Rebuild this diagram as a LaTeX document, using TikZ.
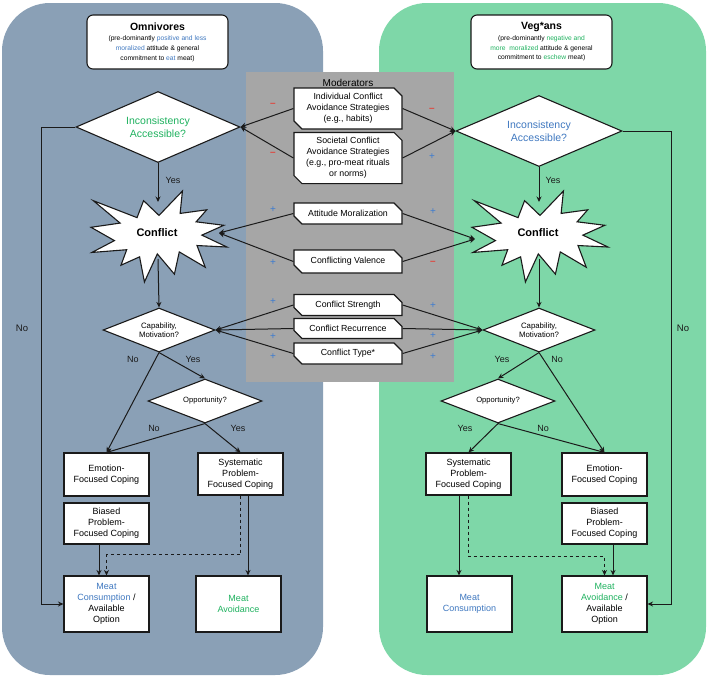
\documentclass[tikz,border=0pt]{standalone}
\usepackage{fontspec}
\setmainfont{Liberation Sans}
\usetikzlibrary{shapes.geometric,shapes.misc,arrows.meta}

\definecolor{omnipanel}{HTML}{8AA0B6}
\definecolor{vegpanel}{HTML}{7ED7A8}
\definecolor{modgray}{HTML}{A6A6A6}
\definecolor{txtblue}{HTML}{3F78C0}
\definecolor{txtgreen}{HTML}{1FB25F}
\definecolor{signred}{HTML}{E0443C}
\definecolor{signblue}{HTML}{3C7BD0}
\definecolor{ink}{HTML}{1A1A1A}

\tikzset{
  titlebox/.style={draw=ink, line width=1.1pt, fill=white, rounded corners=6pt,
    minimum width=141pt, minimum height=54pt, align=center, inner sep=2pt,
    font=\fontsize{6.7}{9.7}\selectfont},
  decision/.style={diamond, draw=ink, line width=1.1pt, fill=white, inner sep=0pt, align=center},
  modbox/.style={chamfered rectangle, chamfered rectangle corners={north east,south west},
    chamfered rectangle sep=4pt, draw=ink, line width=1.2pt, fill=white,
    minimum width=108pt, align=center, inner sep=1pt, font=\fontsize{8.8}{11}\selectfont},
  stepbox/.style={rectangle, draw=ink, line width=1.1pt, fill=white, minimum width=85pt,
    align=center, inner sep=2pt, font=\fontsize{9}{11}\selectfont},
  burstline/.style={draw=ink, line width=1.1pt, fill=white, line join=miter},
  flow/.style={draw=ink, line width=1pt, -{Stealth[length=5.5pt,width=5pt]}},
  lbl/.style={font=\fontsize{9}{10}\selectfont, inner sep=0pt, text=ink},
  minus/.style={font=\fontsize{10}{10}\selectfont\bfseries, inner sep=0pt, text=signred},
  plus/.style={font=\fontsize{10}{10}\selectfont, inner sep=0pt, text=signblue},
}

\begin{document}
\begin{tikzpicture}[x=1pt,y=-1pt]
\useasboundingbox (0,0) rectangle (709,678);

% panels and moderator area
\fill[omnipanel, rounded corners=48pt] (2,3) rectangle (323,675);
\fill[vegpanel, rounded corners=48pt] (379,3) rectangle (706,675);
\fill[modgray] (246,72) rectangle (454,382);
\node[font=\fontsize{10}{12}\selectfont, inner sep=0pt] (modtitle) at (348,82.5) {Moderators};

% group headers
\node[titlebox] (omni) at (157.5,42) {{\fontsize{10.5}{12}\selectfont\bfseries Omnivores}\\[1pt]
  (pre-dominantly \textcolor{txtblue}{positive and less}\\
  \textcolor{txtblue}{moralized} attitude \& general\\
  commitment to \textcolor{txtblue}{eat} meat)};
\node[titlebox] (veg) at (541.5,42) {{\fontsize{10.5}{12}\selectfont\bfseries Veg*ans}\\[1pt]
  (pre-dominantly \textcolor{txtgreen}{negative and}\\
  \textcolor{txtgreen}{more\ \ moralized} attitude \& general\\
  commitment to \textcolor{txtgreen}{eschew} meat)};

% inconsistency decisions
\node[decision, minimum width=164pt, minimum height=71pt, aspect=2.3,
  font=\fontsize{10.5}{13}\selectfont, text=txtgreen] (incL) at (158,127) {Inconsistency\\Accessible?};
\node[decision, minimum width=166pt, minimum height=71pt, aspect=2.3,
  font=\fontsize{10.5}{13}\selectfont, text=txtblue] (incR) at (539,131) {Inconsistency\\Accessible?};

% conflict bursts
\foreach \bx in {91,472}{
  \begin{scope}[shift={(\bx,191)}, x=136pt, y=-91pt]
    \draw[burstline] (0.5,0.2685) -- (0.6723,0) -- (0.6553,0.2465) -- (0.8509,0.2064)
      -- (0.7732,0.3386) -- (0.9767,0.3767) -- (0.8151,0.4850) -- (1,0.6157)
      -- (0.7795,0.5992) -- (0.8400,0.8377) -- (0.6491,0.6693) -- (0.6133,0.9137)
      -- (0.4876,0.6914) -- (0.3928,1) -- (0.3572,0.7235) -- (0.2205,0.8156)
      -- (0.2624,0.6452) -- (0.00625,0.6753) -- (0.1723,0.5451) -- (0,0.3988)
      -- (0.2142,0.3526) -- (0.0171,0.1063) -- (0.3385,0.2926) -- (0.3867,0.1063) -- cycle;
  \end{scope}
}
\node[font=\fontsize{11}{13}\selectfont\bfseries, inner sep=0pt] (conflictL) at (157,233) {Conflict};
\node[font=\fontsize{11}{13}\selectfont\bfseries, inner sep=0pt] (conflictR) at (538,233) {Conflict};
\coordinate (cLtop) at (158,202);
\coordinate (cLbot) at (158,259);
\coordinate (cLin) at (219,233);
\coordinate (cRtop) at (539,202);
\coordinate (cRbot) at (539,259);
\coordinate (cRin) at (475,239);

% capability and opportunity decisions
\node[decision, minimum width=112pt, minimum height=44pt, aspect=2.5,
  font=\fontsize{7.8}{9.3}\selectfont] (capL) at (159,330) {Capability,\\Motivation?};
\node[decision, minimum width=112pt, minimum height=44pt, aspect=2.5,
  font=\fontsize{7.8}{9.3}\selectfont] (capR) at (539,330) {Capability,\\Motivation?};
\node[decision, minimum width=114pt, minimum height=44pt, aspect=2.6,
  font=\fontsize{7.6}{9}\selectfont] (oppL) at (205,401) {Opportunity?};
\node[decision, minimum width=114pt, minimum height=44pt, aspect=2.6,
  font=\fontsize{7.6}{9}\selectfont] (oppR) at (498,401) {Opportunity?};

% moderators
\node[modbox, minimum height=41pt] (indiv) at (348,108.5) {Individual Conflict\\Avoidance Strategies\\(e.g., habits)};
\node[modbox, minimum height=48pt] (soc) at (348,158) {Societal Conflict\\Avoidance Strategies\\(e.g., pro-meat rituals\\or norms)};
\node[modbox, minimum height=21pt] (attm) at (348,213.5) {Attitude Moralization};
\node[modbox, minimum height=23pt] (val) at (348,261.5) {Conflicting Valence};
\node[modbox, minimum height=21pt] (str) at (348,305) {Conflict Strength};
\node[modbox, minimum height=20pt] (rec) at (348,328.5) {Conflict Recurrence};
\node[modbox, minimum height=21pt] (typ) at (348,353.5) {Conflict Type*};

% coping boxes and outcomes, omnivore side
\node[stepbox, minimum height=43pt] (emoL) at (106.5,474.5) {Emotion-\\Focused Coping};
\node[stepbox, minimum height=41pt] (biasL) at (106.5,523.5) {Biased\\Problem-\\Focused Coping};
\node[stepbox, minimum height=42pt] (sysL) at (240.5,474) {Systematic\\Problem-\\Focused Coping};
\node[stepbox, minimum height=56pt] (consL) at (106.5,604) {\textcolor{txtblue}{Meat}\\\textcolor{txtblue}{Consumption} /\\Available\\Option};
\node[stepbox, minimum height=56pt] (avoidL) at (238.5,604) {\textcolor{txtgreen}{Meat}\\\textcolor{txtgreen}{Avoidance}};

% coping boxes and outcomes, veg*an side
\node[stepbox, minimum height=42pt] (sysR) at (468.5,474) {Systematic\\Problem-\\Focused Coping};
\node[stepbox, minimum height=43pt] (emoR) at (604.5,474.5) {Emotion-\\Focused Coping};
\node[stepbox, minimum height=41pt] (biasR) at (604.5,523.5) {Biased\\Problem-\\Focused Coping};
\node[stepbox, minimum height=56pt] (consR) at (469.5,604) {\textcolor{txtblue}{Meat}\\\textcolor{txtblue}{Consumption}};
\node[stepbox, minimum height=56pt] (avoidR) at (604.5,604) {\textcolor{txtgreen}{Meat}\\\textcolor{txtgreen}{Avoidance} /\\Available\\Option};

% main flow, omnivore side
\draw[flow] (incL.south) -- (cLtop);
\draw[flow] (cLbot) -- (capL.north);
\draw[flow] (capL.south) -- (oppL.north);
\draw[flow] (capL.south) -- (emoL.north);
\draw[flow] (oppL.south) -- (emoL.north);
\draw[flow] (oppL.south) -- (sysL.north);
\draw[flow] ([xshift=7.5pt]sysL.south) -- ([xshift=7.5pt]sysL.south |- avoidL.north);
\draw[flow, dashed] (sysL.south) -- ++(0,59) -| (consL.north);
\draw[flow] ([xshift=-7.5pt]biasL.south) -- ([xshift=-7.5pt]consL.north);
\coordinate (noLc) at (41,127);
\draw[flow] (incL.west) -- (noLc) |- (consL.west);

% main flow, veg*an side
\draw[flow] (incR.south) -- (cRtop);
\draw[flow] (cRbot) -- (capR.north);
\draw[flow] (capR.south) -- (oppR.north);
\draw[flow] (capR.south) -- (emoR.north);
\draw[flow] (oppR.south) -- (sysR.north);
\draw[flow] (oppR.south) -- (emoR.north);
\draw[flow] ([xshift=-9.5pt]sysR.south) -- ([xshift=-9.5pt]sysR.south |- consR.north);
\draw[flow, dashed] (sysR.south) -- ++(0,61) -| (avoidR.north);
\draw[flow] ([xshift=8.5pt]biasR.south) -- ([xshift=8.5pt]avoidR.north);
\coordinate (noRc) at (671,131);
\draw[flow] (incR.east) -- (noRc) |- (avoidR.east);

% moderator links
\draw[flow] (indiv.west) -- (incL.east);
\draw[flow] (soc.west) -- (incL.east);
\draw[flow] (indiv.east) -- (incR.west);
\draw[flow] (soc.east) -- (incR.west);
\draw[flow] (attm.west) -- (cLin);
\draw[flow] (val.west) -- (cLin);
\draw[flow] (attm.east) -- (cRin);
\draw[flow] (val.east) -- (cRin);
\draw[flow] (str.west) -- (capL.east);
\draw[flow] (rec.west) -- (capL.east);
\draw[flow] (typ.west) -- (capL.east);
\draw[flow] (str.east) -- (capR.west);
\draw[flow] (rec.east) -- (capR.west);
\draw[flow] (typ.east) -- (capR.west);

% moderator signs
\node[minus] (sIndL) at (273,105) {--};
\node[minus] (sIndR) at (432,110) {--};
\node[minus] (sSocL) at (273,154) {--};
\node[plus]  (sSocR) at (432,157) {+};
\node[plus]  (sAttL) at (273,210) {+};
\node[plus]  (sAttR) at (433,212) {+};
\node[plus]  (sValL) at (273,263) {+};
\node[minus] (sValR) at (433,263) {--};
\node[plus]  (sStrL) at (273,302) {+};
\node[plus]  (sStrR) at (433,306) {+};
\node[plus]  (sRecL) at (273,337) {+};
\node[plus]  (sRecR) at (433,336) {+};
\node[plus]  (sTypL) at (273,357) {+};
\node[plus]  (sTypR) at (433,357) {+};

% branch labels
\node[lbl] (yIncL) at (173,180) {Yes};
\node[lbl] (yIncR) at (553,180) {Yes};
\node[lbl] (nCapL) at (133,359) {No};
\node[lbl] (yCapL) at (193,359) {Yes};
\node[lbl] (nOppL) at (154,428) {No};
\node[lbl] (yOppL) at (238,428) {Yes};
\node[lbl] (yCapR) at (502,359) {Yes};
\node[lbl] (nCapR) at (557,359) {No};
\node[lbl] (yOppR) at (465,428) {Yes};
\node[lbl] (nOppR) at (543,428) {No};
\node[lbl, font=\fontsize{9.5}{11}\selectfont] (nBigL) at (22,328) {No};
\node[lbl, font=\fontsize{9.5}{11}\selectfont] (nBigR) at (683,328) {No};
\end{tikzpicture}
\end{document}
